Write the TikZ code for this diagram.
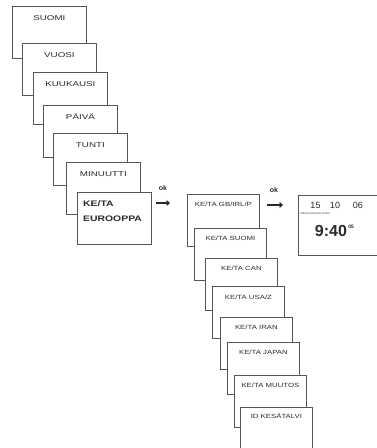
\documentclass[tikz,border=0pt]{standalone}
\usepackage{fontspec}
\setmainfont{Liberation Sans}
\newfontfamily\wideA[FakeStretch=1.4]{Liberation Sans}
\newfontfamily\wideB[FakeStretch=1.3]{Liberation Sans}
\newfontfamily\wideC[FakeStretch=1.3]{Liberation Sans}
\usetikzlibrary{arrows.meta}
\definecolor{edge}{HTML}{555555}
\definecolor{ink}{HTML}{2A2A2A}
\begin{document}
\begin{tikzpicture}[x=1pt,y=-1pt,
 boxA/.style={draw=edge,line width=0.8pt,fill=white,minimum width=74pt,minimum height=52pt,anchor=north west,inner sep=0pt},
 boxB/.style={boxA,minimum width=72pt},
 lblA/.style={text=ink,font=\wideA\fontsize{7}{8}\selectfont,inner sep=0pt},
 lblB/.style={text=ink,font=\wideB\fontsize{6}{7}\selectfont,inner sep=0pt},
 okarrow/.style={draw=ink,line width=2.4pt,-{Triangle[length=3.5pt,width=6pt]}},
 oklbl/.style={font=\bfseries\fontsize{7}{8}\selectfont,text=ink,inner sep=0pt}]
\clip (0,0) rectangle (377,448);
\fill[white] (0,0) rectangle (377,448);
% column 1
\node[boxA] (a1) at (12,6) {};
\node[lblA] at ([yshift=-12pt]a1.north) {SUOMI};
\node[boxA] (a2) at (22,43) {};
\node[lblA] at ([yshift=-12pt]a2.north) {VUOSI};
\node[boxA] (a3) at (33,72) {};
\node[lblA] at ([yshift=-12pt]a3.north) {KUUKAUSI};
\node[boxA] (a4) at (43,105) {};
\node[lblA] at ([yshift=-12pt]a4.north) {PÄIVÄ};
\node[boxA] (a5) at (53,133) {};
\node[lblA] at ([yshift=-12pt]a5.north) {TUNTI};
\node[boxA] (a6) at (66,162) {};
\node[lblA] at ([yshift=-12pt]a6.north) {MINUUTTI};
\node[boxA] (a7) at (77,192) {};
\node[text=ink,font=\wideC\bfseries\fontsize{8}{15}\selectfont,inner sep=0pt,anchor=north west,align=left] at ([xshift=6pt,yshift=-8pt]a7.north west) {KE/TA\\EUROOPPA};
% column 2
\node[boxB] (b1) at (187,194) {};
\node[lblB] at ([yshift=-10pt]b1.north) {KE/TA GB/IRL/P};
\node[boxB] (b2) at (194,228) {};
\node[lblB] at ([yshift=-10pt]b2.north) {KE/TA SUOMI};
\node[boxB] (b3) at (205,258) {};
\node[lblB] at ([yshift=-10pt]b3.north) {KE/TA CAN};
\node[boxB] (b4) at (212,286) {};
\node[lblB] at ([yshift=-11pt]b4.north) {KE/TA USA/Z};
\node[boxB] (b5) at (220,317) {};
\node[lblB] at ([yshift=-10pt]b5.north) {KE/TA IRAN};
\node[boxB] (b6) at (227,342) {};
\node[lblB] at ([yshift=-10pt]b6.north) {KE/TA JAPAN};
\node[boxB] (b7) at (234,375) {};
\node[lblB] at ([yshift=-10pt]b7.north) {KE/TA MUUTOS};
\node[boxB] (b8) at (240,407) {};
\node[lblB] at ([yshift=-9pt]b8.north) {ID KESÄTALVI};
% display
\node[draw=edge,line width=0.8pt,fill=white,minimum width=90pt,minimum height=60pt,anchor=north west,inner sep=0pt] (d) at (298,195) {};
\node[text=ink,font=\fontsize{9}{10}\selectfont,inner sep=0pt] at (315.5,205) {15};
\node[text=ink,font=\fontsize{9}{10}\selectfont,inner sep=0pt] at (335,205) {10};
\node[text=ink,font=\fontsize{9}{10}\selectfont,inner sep=0pt] at (358,205) {06};
\node[text=ink,font=\fontsize{2.5}{3}\selectfont,inner sep=0pt] at (315,213) {PÄIVÄ KUUKAUSI VUOSI};
\node[text=ink,font=\bfseries\fontsize{16}{18}\selectfont,inner sep=0pt] (t) at (331,231) {9:40};
\node[text=ink,font=\bfseries\fontsize{5}{6}\selectfont,inner sep=0pt,anchor=north west] at ([xshift=1pt]t.north east) {05};
% ok arrows
\coordinate (p1) at (156,203);
\coordinate (q1) at (170,203);
\draw[okarrow] (p1) -- (q1);
\node[oklbl] at (163,188) {ok};
\coordinate (p2) at (267,205);
\coordinate (q2) at (283,205);
\draw[okarrow] (p2) -- (q2);
\node[oklbl] at (274,190) {ok};
\end{tikzpicture}
\end{document}
